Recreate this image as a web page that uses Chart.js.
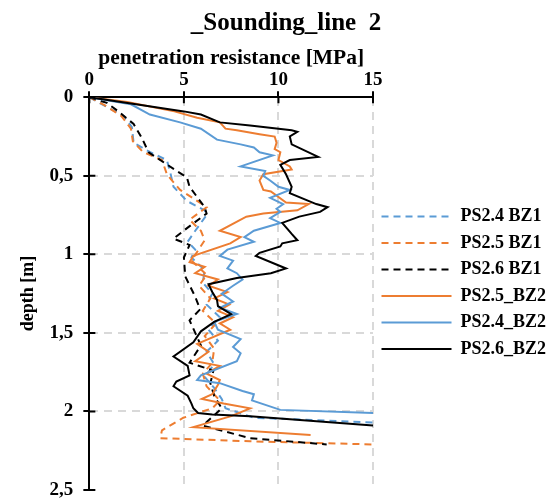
<!DOCTYPE html>
<html>
<head>
<meta charset="utf-8">
<script src="https://cdn.jsdelivr.net/npm/chart.js@4"></script>
<style>
  html, body { margin: 0; padding: 0; background: #fff; }
</style>
</head>
<body>
<canvas id="myChart" width="554" height="500"></canvas>
<script>
// depth [m] and penetration resistance [MPa]
const ps24bz1Depth = [0, 0.057, 0.12, 0.19, 0.29, 0.35, 0.40, 0.49, 0.57, 0.66, 0.72, 0.75, 0.85, 0.92, 0.97, 1.02, 1.1, 1.18, 1.25, 1.32, 1.40, 1.48, 1.55, 1.62, 1.70, 1.78, 1.85, 1.92, 1.98, 2.04, 2.07]
const ps24bz1Mpa = [0, 0.85, 1.81, 2.25, 2.34, 3.22, 4.1, 4.3, 4.45, 5.16, 6.1, 6.2, 5.6, 5.2, 5.6, 5.4, 6.1, 6.0, 6.5, 6.2, 6.9, 6.3, 6.8, 6.2, 6.6, 6.1, 6.6, 7.0, 7.2, 8.7, 15]

const ps25bz1Depth = [0, 0.05, 0.12, 0.2, 0.28, 0.35, 0.40, 0.49, 0.52, 0.59, 0.66, 0.70, 0.78, 0.85, 0.91, 1.04, 1.13, 1.2, 1.28, 1.36, 1.44, 1.52, 1.60, 1.69, 1.76, 1.84, 1.93, 1.98, 2.04, 2.12, 2.17, 2.19, 2.21]
const ps25bz1Mpa = [0, 0.8, 1.7, 2.2, 2.3, 2.85, 3.84, 4.1, 4.3, 4.8, 5.7, 6.2, 5.3, 5.9, 6.1, 5.4, 6.2, 5.8, 6.4, 6.0, 6.7, 6.1, 6.6, 6.5, 6.0, 6.2, 6.9, 6.5, 4.97, 3.84, 3.75, 8.5, 15]

const ps26bz1Depth = [0, 0.036, 0.1, 0.17, 0.26, 0.35, 0.46, 0.51, 0.57, 0.70, 0.74, 0.83, 0.90, 0.94, 1.02, 1.14, 1.27, 1.35, 1.42, 1.5, 1.58, 1.69, 1.74, 1.82, 1.90, 1.98, 2.09, 2.17, 2.21]
const ps26bz1Mpa = [0, 0.93, 1.64, 2.34, 2.78, 3.13, 4.5, 5.16, 5.3, 6.1, 6.2, 5.2, 4.45, 5.3, 5.0, 5.07, 5.6, 5.86, 5.3, 5.6, 5.9, 5.3, 6.56, 6.4, 6.6, 7.0, 6.0, 8.5, 12.55]

const ps25bz2Depth = [0, 0.03, 0.09, 0.13, 0.16, 0.2, 0.21, 0.235, 0.25, 0.29, 0.33, 0.35, 0.40, 0.44, 0.46, 0.49, 0.53, 0.59, 0.60, 0.67, 0.68, 0.72, 0.74, 0.76, 0.85, 0.89, 0.93, 1.01, 1.05, 1.08, 1.12, 1.16, 1.2, 1.24, 1.28, 1.32, 1.36, 1.40, 1.44, 1.48, 1.57, 1.62, 1.68, 1.71, 1.76, 1.80, 1.83, 1.89, 1.92, 1.95, 1.98, 2.03, 2.10, 2.15]
const ps25bz2Mpa = [0, 2.0, 4.5, 5.7, 6.9, 7.2, 7.8, 9.0, 9.8, 9.9, 9.8, 10.1, 10.0, 10.6, 10.7, 9.2, 9.0, 9.2, 9.6, 10.4, 11.6, 11.0, 9.2, 8.3, 6.9, 8.0, 7.45, 5.5, 5.3, 6.1, 5.6, 6.8, 6.3, 7.3, 6.6, 7.4, 6.8, 7.6, 6.9, 7.45, 5.7, 6.3, 5.6, 6.9, 6.2, 6.9, 6.8, 6.5, 5.95, 7.1, 8.5, 7.5, 5.5, 11.7]

const ps24bz2Depth = [0, 0.02, 0.045, 0.11, 0.16, 0.2, 0.27, 0.30, 0.32, 0.35, 0.37, 0.44, 0.47, 0.50, 0.53, 0.57, 0.59, 0.64, 0.68, 0.71, 0.73, 0.77, 0.80, 0.85, 0.89, 0.92, 0.97, 1.01, 1.04, 1.09, 1.12, 1.16, 1.20, 1.25, 1.30, 1.34, 1.38, 1.43, 1.48, 1.54, 1.59, 1.63, 1.68, 1.77, 1.80, 1.82, 1.87, 1.89, 1.93, 1.99, 2.01]
const ps24bz2Mpa = [0, 1.0, 2.2, 3.2, 4.8, 5.9, 6.75, 8.0, 8.7, 9.0, 9.7, 8.0, 9.3, 9.2, 9.56, 10.0, 10.6, 9.56, 10.25, 9.9, 10.1, 9.56, 10.1, 8.7, 8.2, 8.7, 7.3, 6.9, 7.6, 7.3, 7.8, 8.1, 7.6, 7.0, 7.6, 6.9, 7.8, 6.6, 6.8, 8.0, 7.6, 8.0, 7.8, 5.9, 5.7, 6.9, 8.1, 8.7, 8.6, 10.1, 15]

const ps26bz2Depth = [0, 0.04, 0.09, 0.11, 0.16, 0.18, 0.21, 0.22, 0.25, 0.30, 0.38, 0.40, 0.43, 0.49, 0.57, 0.61, 0.68, 0.70, 0.73, 0.76, 0.80, 0.87, 0.91, 0.93, 0.95, 0.99, 1.01, 1.09, 1.12, 1.15, 1.19, 1.24, 1.29, 1.33, 1.38, 1.43, 1.49, 1.56, 1.65, 1.71, 1.77, 1.81, 1.84, 1.90, 1.95, 1.98, 2.01, 2.02, 2.03, 2.09]
const ps26bz2Mpa = [0, 2.2, 5.0, 5.9, 6.9, 8.5, 10.7, 11.0, 10.6, 10.7, 12.1, 10.6, 10.1, 10.4, 10.7, 10.6, 12.0, 12.6, 12.2, 11.1, 10.2, 10.7, 11.0, 10.2, 10.1, 9.0, 8.8, 10.4, 9.6, 7.8, 6.3, 6.5, 6.75, 6.8, 7.5, 6.6, 5.9, 5.5, 4.45, 5.2, 5.3, 4.6, 4.45, 5.2, 5.4, 5.5, 5.75, 6.5, 8.5, 15]

const seriesNames = ['PS2.4 BZ1', 'PS2.5 BZ1', 'PS2.6 BZ1', 'PS2.5_BZ2', 'PS2.4_BZ2', 'PS2.6_BZ2']
const mpaTickLabels = ['0', '5', '10', '15']
const depthTickLabels = ['0', '0,5', '1', '1,5', '2', '2,5']

const BLUE = '#5b9bd5'
const ORANGE = '#ed7d31'
const BLACK = '#000000'
const DASH = [7, 5]
const FONT = 'Liberation Serif, Times New Roman, serif'

const toPoints = (mpa, depth) => mpa.map((v, i) => ({ x: v, y: depth[i] }))

const series = [
  [ps24bz1Mpa, ps24bz1Depth, BLUE, DASH],
  [ps25bz1Mpa, ps25bz1Depth, ORANGE, DASH],
  [ps26bz1Mpa, ps26bz1Depth, BLACK, DASH],
  [ps25bz2Mpa, ps25bz2Depth, ORANGE, []],
  [ps24bz2Mpa, ps24bz2Depth, BLUE, []],
  [ps26bz2Mpa, ps26bz2Depth, BLACK, []]
]

const datasets = series.map(([mpa, depth, color, dash], i) => ({
  label: seriesNames[i],
  data: toPoints(mpa, depth),
  showLine: true,
  borderColor: color,
  backgroundColor: color,
  borderWidth: 2,
  borderDash: dash,
  pointRadius: 0,
  tension: 0,
  order: series.length - i
}))

// tick marks that cross the axis line, as in the office chart
const innerTicks = {
  id: 'innerTicks',
  afterDraw(chart) {
    const { ctx, chartArea, scales } = chart
    ctx.save()
    ctx.strokeStyle = '#000'
    ctx.lineWidth = 2
    ctx.beginPath()
    scales.x.ticks.forEach(t => {
      const px = scales.x.getPixelForValue(t.value)
      ctx.moveTo(px, chartArea.top)
      ctx.lineTo(px, chartArea.top + 6)
    })
    scales.y.ticks.forEach(t => {
      const py = scales.y.getPixelForValue(t.value)
      ctx.moveTo(chartArea.left, py)
      ctx.lineTo(chartArea.left + 6, py)
    })
    ctx.stroke()
    ctx.restore()
  }
}

const ctx = document.getElementById('myChart')
new Chart(ctx, {
  type: 'scatter',
  data: { datasets },
  plugins: [innerTicks],
  options: {
    responsive: false,
    animation: false,
    layout: { padding: { left: 18, right: 0, top: 0, bottom: 8 } },
    plugins: {
      title: {
        display: true,
        text: '_Sounding_line  2',
        color: '#000',
        font: { family: FONT, size: 25, weight: 'bold', lineHeight: 1 },
        padding: { top: 11, bottom: 13 }
      },
      legend: {
        position: 'right',
        align: 'start',
        maxWidth: 181,
        title: { display: true, text: ' ', font: { size: 10, lineHeight: 1.2 }, padding: { top: 187, bottom: 0 } },
        labels: {
          usePointStyle: true,
          pointStyle: 'line',
          pointStyleWidth: 70,
          padding: 8.5,
          color: '#000',
          font: { family: FONT, size: 18, weight: 'bold' },
          sort: (a, b) => a.datasetIndex - b.datasetIndex,
          generateLabels: chart => Chart.defaults.plugins.legend.labels.generateLabels(chart).map(item => ({
            ...item,
            lineDash: chart.data.datasets[item.datasetIndex].borderDash
          }))
        }
      },
      tooltip: { enabled: false }
    },
    scales: {
      x: {
        type: 'linear',
        position: 'top',
        min: 0,
        max: 15,
        ticks: {
          stepSize: 5,
          padding: 1,
          color: '#000',
          font: { family: FONT, size: 19, weight: 'bold', lineHeight: 1.1 },
          callback: value => mpaTickLabels[Math.round(value / 5)]
        },
        grid: { color: '#d9d9d9', lineWidth: 2, tickColor: '#000', tickLength: 6, tickWidth: 2 },
        border: { color: '#000', width: 2, dash: [8, 6] },
        title: {
          display: true,
          text: 'penetration resistance [MPa]',
          color: '#000',
          font: { family: FONT, size: 21.5, weight: 'bold', lineHeight: 0.9 },
          padding: 0
        }
      },
      y: {
        type: 'linear',
        reverse: true,
        min: 0,
        max: 2.5,
        ticks: {
          stepSize: 0.5,
          padding: 10,
          color: '#000',
          font: { family: FONT, size: 19, weight: 'bold', lineHeight: 0 },
          callback: value => depthTickLabels[Math.round(value / 0.5)]
        },
        grid: {
          color: c => (c.tick && c.tick.value === 2.5 ? 'rgba(0,0,0,0)' : '#d9d9d9'),
          lineWidth: 2,
          tickColor: '#000',
          tickLength: 6,
          tickWidth: 2
        },
        border: { color: '#000', width: 2, dash: [8, 6] },
        title: {
          display: true,
          text: 'depth [m]',
          color: '#000',
          font: { family: FONT, size: 18, weight: 'bold' },
          padding: { top: 0, bottom: 0 }
        }
      }
    }
  }
})
</script>
</body>
</html>
